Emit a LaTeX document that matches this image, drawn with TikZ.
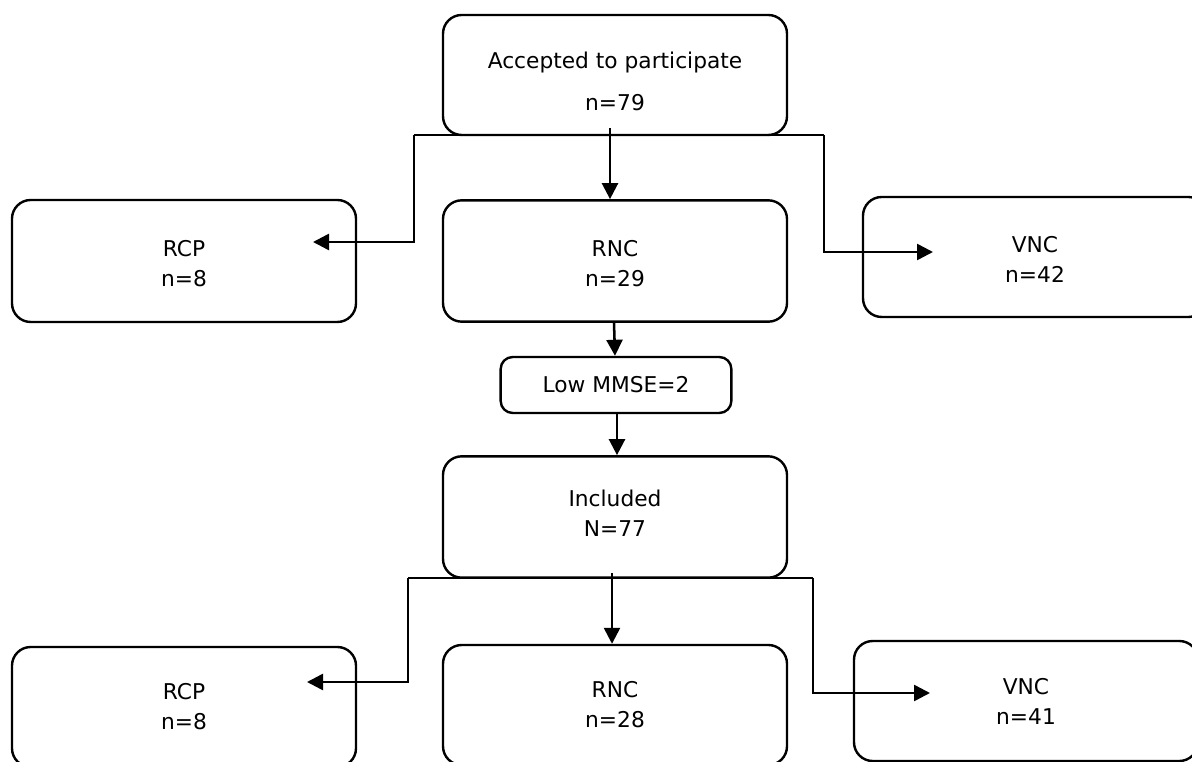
\documentclass[tikz,border=0pt]{standalone}
\usepackage{fontspec}
\setmainfont{DejaVu Sans}
\usetikzlibrary{arrows.meta,calc}
\newcommand{\lift}[1]{\rule{0pt}{#1}}
\newcommand{\sink}[1]{\rule[-#1]{0pt}{#1}}
\begin{document}
\begin{tikzpicture}[x=0.75pt,y=-0.75pt,
  box/.style={draw=black,line width=1.8pt,rounded corners=14pt,fill=white,
    align=center,inner sep=0pt,font=\fontsize{16.3}{22.5}\selectfont},
  arr/.style={draw=black,line width=1.9pt,-{Triangle[length=12pt,width=12pt]}},
  lin/.style={draw=black,line width=1.9pt}]
\useasboundingbox (0,0) rectangle (1192,762);
\clip (0,0) rectangle (1192,762);
% boxes
\node[box,minimum width=258pt,minimum height=90pt] (acc) at (615,75)
  {\lift{21.5pt}Accepted to participate\\[9pt]n=79};
\node[box,minimum width=258pt,minimum height=91.5pt] (rcp1) at (184,261) {\lift{16.5pt}RCP\\n=8};
\node[box,minimum width=258pt,minimum height=91pt] (rnc1) at (615,261) {\lift{16.5pt}RNC\\n=29};
\node[box,minimum width=258pt,minimum height=90pt] (vnc1) at (1035,257) {\lift{15.5pt}VNC\\n=42};
\node[box,rounded corners=9pt,minimum width=173pt,minimum height=42pt] (mmse) at (616,385) {Low MMSE=2};
\node[box,minimum width=258pt,minimum height=91pt] (inc) at (615,517) {Included\\N=77\sink{5.5pt}};
\node[box,minimum width=258pt,minimum height=90pt] (rcp2) at (184,707) {RCP\\n=8};
\node[box,minimum width=258pt,minimum height=90pt] (rnc2) at (615,705) {RNC\\n=28};
\node[box,minimum width=258pt,minimum height=90pt] (vnc2) at (1026,701) {VNC\\n=41};
% coordinates for first split
\coordinate (s1l) at (414,135);
\coordinate (s1r) at (824,135);
\coordinate (t1l) at (313,242);
\coordinate (t1r) at (933,252);
% coordinates for second split
\coordinate (s2l) at (408,578);
\coordinate (s2r) at (813,578);
\coordinate (t2l) at (307,682);
\coordinate (t2r) at (930,693);
% connectors, first level
\draw[lin] (s1l) -- (s1r);
\draw[arr] ([xshift=-3.75pt,yshift=6pt]acc.south) -- ([xshift=-3.75pt]rnc1.north);
\draw[arr] (s1l) |- (t1l);
\draw[arr] (s1r) |- (t1r);
\draw[arr] ([xshift=-0.75pt]rnc1.south) -- ([xshift=-0.75pt]mmse.north);
\draw[arr] ([xshift=0.75pt]mmse.south) -- ([xshift=1.5pt]inc.north);
% connectors, second level
\draw[lin] (s2l) -- (s2r);
\draw[arr] ([xshift=-2.25pt,yshift=4.5pt]inc.south) -- ([xshift=-2.25pt]rnc2.north);
\draw[arr] (s2l) |- (t2l);
\draw[arr] (s2r) |- (t2r);
\end{tikzpicture}
\end{document}
